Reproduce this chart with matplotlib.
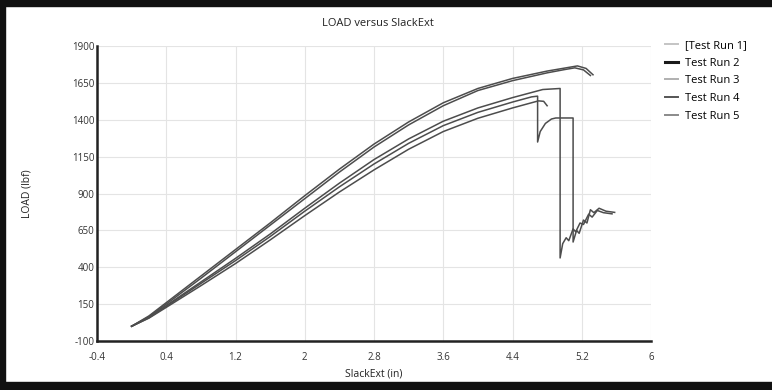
import matplotlib
matplotlib.use("Agg")
import matplotlib.pyplot as plt
import matplotlib.patches as mpatches

plt.rcParams['font.family'] = ['Open Sans', 'DejaVu Sans']
plt.rcParams['axes.unicode_minus'] = False

# ---- data ------------------------------------------------------------
run1_x = [0, 0.2, 0.4, 0.8, 1.2, 1.6, 2.0, 2.4, 2.8, 3.2, 3.6, 4.0, 4.4, 4.8, 5.0, 5.15, 5.25, 5.33]
run1_y = [0, 70, 160, 340, 520, 700, 885, 1065, 1235, 1385, 1515, 1612, 1680, 1730, 1750, 1765, 1748, 1705]

run3_x = [0, 0.2, 0.4, 0.8, 1.2, 1.6, 2.0, 2.4, 2.8, 3.2, 3.6, 4.0, 4.4, 4.8, 5.0, 5.12, 5.22, 5.3]
run3_y = [0, 65, 150, 325, 505, 685, 865, 1045, 1215, 1365, 1495, 1598, 1665, 1718, 1740, 1752, 1738, 1700]

run2_x = [0, 0.2, 0.4, 0.8, 1.2, 1.6, 2.0, 2.4, 2.8, 3.2, 3.6, 4.0, 4.4, 4.75, 4.95, 4.95,
          4.98, 5.02, 5.05, 5.1, 5.13, 5.18, 5.22, 5.28, 5.32, 5.38, 5.45, 5.55]
run2_y = [0, 60, 140, 300, 460, 625, 800, 970, 1130, 1270, 1390, 1480, 1550, 1605, 1612, 463,
          560, 600, 580, 660, 640, 700, 690, 760, 740, 785, 770, 762]

run4_x = [0, 0.2, 0.4, 0.8, 1.2, 1.6, 2.0, 2.4, 2.8, 3.2, 3.6, 4.0, 4.4, 4.62, 4.69, 4.69,
          4.72, 4.78, 4.85, 4.9, 5.1, 5.1,
          5.14, 5.17, 5.22, 5.26, 5.3, 5.34, 5.4, 5.48, 5.58]
run4_y = [0, 58, 135, 290, 445, 608, 780, 945, 1100, 1240, 1360, 1450, 1520, 1555, 1560, 1249,
          1320, 1375, 1405, 1412, 1412, 571,
          650, 630, 720, 700, 790, 770, 800, 780, 772]

run5_x = [0, 0.2, 0.4, 0.8, 1.2, 1.6, 2.0, 2.4, 2.8, 3.2, 3.6, 4.0, 4.4, 4.7, 4.76, 4.8]
run5_y = [0, 55, 128, 275, 425, 585, 750, 910, 1060, 1200, 1320, 1410, 1480, 1528, 1525, 1495]

x_ticks = [-0.4, 0.4, 1.2, 2, 2.8, 3.6, 4.4, 5.2, 6]
x_labels = ['-0.4', '0.4', '1.2', '2', '2.8', '3.6', '4.4', '5.2', '6']
y_ticks = [-100, 150, 400, 650, 900, 1150, 1400, 1650, 1900]

runs = [
    ('[Test Run 1]', run1_x, run1_y, '#c4c4c4'),
    ('Test Run 2', run2_x, run2_y, '#1a1a1a'),
    ('Test Run 3', run3_x, run3_y, '#b0b0b0'),
    ('Test Run 4', run4_x, run4_y, '#555555'),
    ('Test Run 5', run5_x, run5_y, '#8a8a8a'),
]

fig = plt.figure(figsize=(7.72, 3.90), dpi=100)
ax = fig.add_axes([97 / 772, 1 - 341 / 390, (651 - 97) / 772, (341 - 46) / 390])

# curves (drawn dark, legend swatches use the lighter key colours)
for name, xs, ys, col in runs:
    ax.plot(xs, ys, color='#4d4d4d', lw=1.1, zorder=3)

ax.set_xlim(-0.4, 6)
ax.set_ylim(-100, 1900)
ax.set_xticks(x_ticks)
ax.set_xticklabels(x_labels)
ax.set_yticks(y_ticks)
ax.tick_params(axis='x', length=0, labelsize=7, colors='#333333', pad=8)
ax.tick_params(axis='y', length=0, labelsize=7, colors='#333333', pad=2)
ax.grid(True, color='#e4e4e4', lw=0.8)
ax.set_axisbelow(True)
for s in ('top', 'right'):
    ax.spines[s].set_visible(False)
for s in ('left', 'bottom'):
    ax.spines[s].set_linewidth(1.8)
    ax.spines[s].set_color('#222222')

ax.set_xlabel('SlackExt (in)', fontsize=7.5, color='#222222', labelpad=4)
ax.set_ylabel('LOAD (lbf)', fontsize=7.5, color='#222222', labelpad=28)
fig.text(0.49, 1 - 23 / 390, 'LOAD versus SlackExt', ha='center', va='center',
         fontsize=8, color='#222222')

handles = [plt.Line2D([], [], color=c, lw=2.2 if i == 1 else 1.4)
           for i, (_, _, _, c) in enumerate(runs)]
fig.legend(handles, [r[0] for r in runs], loc='upper left',
           bbox_to_anchor=(655 / 772, 1 - 30 / 390), frameon=False,
           fontsize=8, handlelength=1.2, handletextpad=0.6, labelspacing=0.6)

# black frame of the scanned figure
for rect in ([0, 0, 0.007, 1], [0, 0.985, 1, 0.015], [0, 0, 1, 0.02]):
    fig.add_artist(mpatches.Rectangle(rect[:2], rect[2], rect[3], transform=fig.transFigure,
                                      color='#111111', zorder=10))

fig.savefig('out.png', dpi=100)
